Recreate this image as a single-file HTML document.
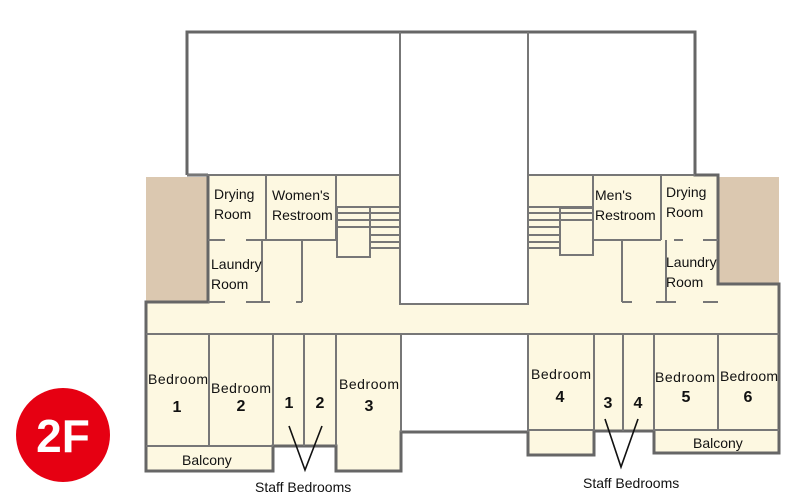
<!DOCTYPE html>
<html><head><meta charset="utf-8"><style>
html,body{margin:0;padding:0;background:#fff;width:800px;height:504px;overflow:hidden}
text{font-family:"Liberation Sans","DejaVu Sans",sans-serif;fill:#111}
</style></head><body>
<svg width="800" height="504" viewBox="0 0 800 504" xmlns="http://www.w3.org/2000/svg">
<g fill="#fdf8e1" stroke="none">
<rect x="208" y="175" width="192" height="130"/>
<rect x="528" y="175" width="190" height="130"/>
<rect x="146" y="303" width="633" height="31"/>
<rect x="718" y="284" width="61" height="20"/>
<rect x="146" y="334" width="255" height="112"/>
<rect x="146" y="446" width="127" height="24"/>
<rect x="336" y="446" width="65" height="24"/>
<rect x="528" y="334" width="251" height="96"/>
<rect x="528" y="430" width="66" height="25"/>
<rect x="654" y="430" width="125" height="22"/>
</g>
<rect x="146" y="177" width="62" height="125" fill="#dbc8b0"/>
<rect x="718" y="177" width="61" height="107" fill="#dbc8b0"/>
<g stroke="#666" stroke-width="3" fill="none">
<polyline points="187,175 187,32 695,32 695,175 718,175 718,284 779,284 779,432"/>
<polyline points="208,175 187,175"/>
<polyline points="208,175 208,302 146,302 146,471 273,471 273,446 336,446 336,471 401,471 401,432 528,432 528,455 594,455 594,431 654,431 654,453 779,453 779,430"/>
</g>
<g stroke="#777" stroke-width="2" fill="none">
<line x1="187" y1="175" x2="400" y2="175"/>
<line x1="528" y1="175" x2="695" y2="175"/>
<polyline points="400,32 400,304 528,304 528,32"/>
<line x1="146" y1="334" x2="779" y2="334"/>
<line x1="266" y1="175" x2="266" y2="240"/>
<line x1="336" y1="175" x2="336" y2="240"/>
<line x1="266" y1="240" x2="336" y2="240"/>
<line x1="208" y1="240" x2="225" y2="240"/>
<line x1="246" y1="240" x2="266" y2="240"/>
<line x1="262" y1="240" x2="262" y2="302"/>
<line x1="302" y1="240" x2="302" y2="302"/>
<line x1="208" y1="302" x2="225" y2="302"/>
<line x1="246" y1="302" x2="270" y2="302"/>
<line x1="296" y1="302" x2="302" y2="302"/>
<rect x="337" y="207" width="33" height="50"/>
<line x1="337" y1="213" x2="400" y2="213"/>
<line x1="337" y1="220" x2="400" y2="220"/>
<line x1="337" y1="227" x2="400" y2="227"/>
<line x1="370" y1="207" x2="400" y2="207"/>
<line x1="370" y1="235" x2="400" y2="235"/>
<line x1="370" y1="242" x2="400" y2="242"/>
<line x1="370" y1="248" x2="400" y2="248"/>
<line x1="593" y1="175" x2="593" y2="240"/>
<line x1="661" y1="175" x2="661" y2="240"/>
<line x1="593" y1="240" x2="661" y2="240"/>
<line x1="674" y1="240" x2="683" y2="240"/>
<line x1="703" y1="240" x2="718" y2="240"/>
<line x1="622" y1="240" x2="622" y2="302"/>
<line x1="666" y1="240" x2="666" y2="302"/>
<line x1="622" y1="302" x2="632" y2="302"/>
<line x1="656" y1="302" x2="676" y2="302"/>
<line x1="703" y1="302" x2="718" y2="302"/>
<rect x="560" y="208" width="33" height="47"/>
<line x1="528" y1="207" x2="593" y2="207"/>
<line x1="528" y1="213" x2="593" y2="213"/>
<line x1="528" y1="220" x2="593" y2="220"/>
<line x1="528" y1="227" x2="560" y2="227"/>
<line x1="528" y1="235" x2="560" y2="235"/>
<line x1="528" y1="242" x2="560" y2="242"/>
<line x1="528" y1="248" x2="560" y2="248"/>
<line x1="209" y1="334" x2="209" y2="446"/>
<line x1="273" y1="334" x2="273" y2="446"/>
<line x1="304" y1="334" x2="304" y2="446"/>
<line x1="336" y1="334" x2="336" y2="446"/>
<line x1="401" y1="334" x2="401" y2="432"/>
<line x1="146" y1="446" x2="273" y2="446"/>
<line x1="528" y1="334" x2="528" y2="432"/>
<line x1="594" y1="334" x2="594" y2="431"/>
<line x1="623" y1="334" x2="623" y2="431"/>
<line x1="654" y1="334" x2="654" y2="431"/>
<line x1="718" y1="334" x2="718" y2="431"/>
<line x1="528" y1="430" x2="594" y2="430"/>
<line x1="654" y1="430" x2="779" y2="430"/>
</g>
<g stroke="#111" stroke-width="1.6" fill="none">
<polyline points="289,426 305,470 322,426"/>
<polyline points="605,419 621,467 638,419"/>
</g>
<g font-size="14">
<text x="214" y="199">Drying</text><text x="214" y="219">Room</text>
<text x="272" y="200">Women's</text><text x="272" y="220">Restroom</text>
<text x="211" y="269">Laundry</text><text x="211" y="289">Room</text>
<text x="595" y="200">Men's</text><text x="595" y="220">Restroom</text>
<text x="666" y="197">Drying</text><text x="666" y="217">Room</text>
<text x="666" y="267">Laundry</text><text x="666" y="287">Room</text>
<text x="148" y="384" textLength="60">Bedroom</text>
<text x="211" y="393" textLength="60">Bedroom</text>
<text x="339" y="389" textLength="60">Bedroom</text>
<text x="531" y="379" textLength="60">Bedroom</text>
<text x="655" y="382" textLength="60">Bedroom</text>
<text x="720" y="381" textLength="58">Bedroom</text>
<text x="182" y="465">Balcony</text>
<text x="693" y="448">Balcony</text>
<text x="255" y="492">Staff Bedrooms</text>
<text x="583" y="488">Staff Bedrooms</text>
</g>
<g font-size="16" font-weight="600" text-anchor="middle">
<text x="177" y="412">1</text><text x="241" y="411">2</text>
<text x="289" y="408">1</text><text x="320" y="408">2</text>
<text x="369" y="411">3</text><text x="560" y="402">4</text>
<text x="608" y="408">3</text><text x="638" y="408">4</text>
<text x="686" y="402">5</text><text x="748" y="402">6</text>
</g>
<circle cx="63" cy="435" r="47" fill="#e60012"/>
<text x="63" y="452" font-size="46" font-weight="bold" text-anchor="middle" style="fill:#fff">2F</text>
</svg>
</body></html>
